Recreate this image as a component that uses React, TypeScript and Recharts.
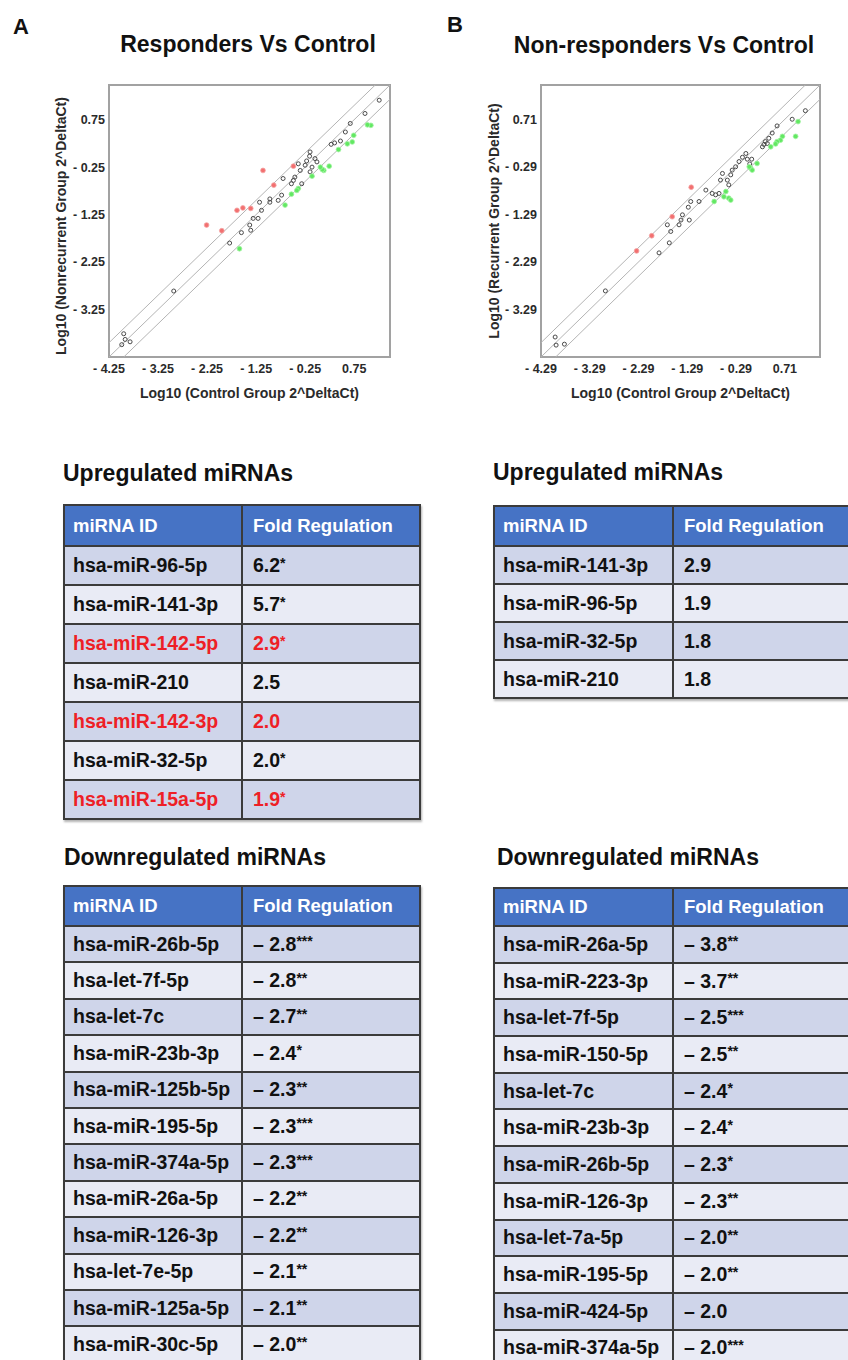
import React from "react";
import { ScatterChart, Scatter, XAxis, YAxis, ReferenceLine, ReferenceArea } from "recharts";

type Pt = { x: number; y: number };

// ---- scatter data (log10 2^-dCt) ----
const respDomain: [number, number] = [-4.25, 1.48];
const respTicksX = [-4.25, -3.25, -2.25, -1.25, -0.25, 0.75];
const respTicksY = [-3.25, -2.25, -1.25, -0.25, 0.75];

const respGray: Pt[] = [
  { x: 1.26, y: 1.16 }, { x: 0.97, y: 0.88 }, { x: 0.67, y: 0.67 }, { x: 0.57, y: 0.49 },
  { x: 0.47, y: 0.3 }, { x: 0.35, y: 0.26 }, { x: 0.28, y: 0.23 }, { x: -0.15, y: 0.07 },
  { x: -0.16, y: -0.02 }, { x: -0.22, y: -0.12 }, { x: -0.25, y: -0.21 }, { x: -0.05, y: -0.07 },
  { x: -0.01, y: -0.14 }, { x: -0.11, y: -0.25 }, { x: -0.15, y: -0.35 }, { x: -0.35, y: -0.32 },
  { x: -0.46, y: -0.46 }, { x: -0.53, y: -0.6 }, { x: -0.49, y: -0.53 }, { x: -0.32, y: -0.6 },
  { x: -0.39, y: -0.18 }, { x: -0.7, y: -0.49 }, { x: -0.73, y: -0.84 }, { x: -0.8, y: -0.95 },
  { x: -0.97, y: -0.92 }, { x: -0.97, y: -0.99 }, { x: -1.18, y: -0.99 }, { x: -1.14, y: -1.16 },
  { x: -1.21, y: -1.33 }, { x: -1.31, y: -1.33 }, { x: -1.38, y: -1.47 }, { x: -1.36, y: -1.58 },
  { x: -1.55, y: -1.63 }, { x: -1.79, y: -1.85 }, { x: -2.93, y: -2.86 }, { x: -3.99, y: -3.99 },
  { x: -3.95, y: -3.76 }, { x: -3.92, y: -3.88 }, { x: -3.82, y: -3.93 },
];
const respRed: Pt[] = [
  { x: -1.11, y: -0.32 }, { x: -0.89, y: -0.63 }, { x: -0.49, y: -0.23 }, { x: -1.64, y: -1.16 },
  { x: -1.52, y: -1.11 }, { x: -1.36, y: -1.12 }, { x: -2.26, y: -1.47 }, { x: -1.95, y: -1.59 },
];
const respGreen: Pt[] = [
  { x: 1.09, y: 0.63 }, { x: 1.02, y: 0.64 }, { x: 0.74, y: 0.42 }, { x: 0.71, y: 0.28 },
  { x: 0.61, y: 0.24 }, { x: 0.43, y: 0.12 }, { x: 0.24, y: -0.23 }, { x: 0.13, y: -0.32 },
  { x: 0.1, y: -0.3 }, { x: 0.06, y: -0.25 }, { x: -0.11, y: -0.44 }, { x: -0.39, y: -0.7 },
  { x: -0.42, y: -0.74 }, { x: -0.53, y: -0.82 }, { x: -0.66, y: -1.05 }, { x: -1.59, y: -1.97 },
];

const nonDomain: [number, number] = [-4.29, 1.43];
const nonTicksX = [-4.29, -3.29, -2.29, -1.29, -0.29, 0.71];
const nonTicksY = [-3.29, -2.29, -1.29, -0.29, 0.71];

const nonGray: Pt[] = [
  { x: 1.13, y: 0.89 }, { x: 0.86, y: 0.71 }, { x: 0.55, y: 0.57 }, { x: 0.45, y: 0.42 },
  { x: 0.38, y: 0.31 }, { x: 0.31, y: 0.24 }, { x: 0.25, y: 0.13 }, { x: 0.35, y: 0.2 },
  { x: 0.28, y: 0.18 }, { x: -0.09, y: -0.01 }, { x: -0.16, y: -0.09 }, { x: -0.23, y: -0.18 },
  { x: -0.3, y: -0.29 }, { x: -0.06, y: -0.13 }, { x: -0.01, y: -0.23 }, { x: 0.03, y: -0.13 },
  { x: -0.37, y: -0.36 }, { x: -0.4, y: -0.46 }, { x: -0.47, y: -0.57 }, { x: -0.44, y: -0.67 },
  { x: -0.61, y: -0.57 }, { x: -0.57, y: -0.43 }, { x: -0.71, y: -0.88 }, { x: -0.64, y: -0.85 },
  { x: -0.78, y: -0.85 }, { x: -0.91, y: -0.78 }, { x: -1.05, y: -1.02 }, { x: -1.22, y: -1.02 },
  { x: -1.27, y: -1.14 }, { x: -1.39, y: -1.3 }, { x: -1.42, y: -1.41 }, { x: -1.25, y: -1.41 },
  { x: -1.46, y: -1.51 }, { x: -1.7, y: -1.51 }, { x: -1.63, y: -1.65 }, { x: -1.66, y: -1.89 },
  { x: -1.87, y: -2.1 }, { x: -2.97, y: -2.9 }, { x: -4.0, y: -3.87 }, { x: -3.98, y: -4.04 },
  { x: -3.81, y: -4.02 },
];
const nonRed: Pt[] = [
  { x: -1.21, y: -0.72 }, { x: -1.6, y: -1.34 }, { x: -2.02, y: -1.74 }, { x: -2.33, y: -2.06 },
];
const nonGreen: Pt[] = [
  { x: 0.98, y: 0.66 }, { x: 0.93, y: 0.35 }, { x: 0.66, y: 0.35 }, { x: 0.62, y: 0.27 },
  { x: 0.55, y: 0.24 }, { x: 0.52, y: 0.19 }, { x: 0.42, y: 0.13 }, { x: 0.14, y: -0.22 },
  { x: 0.01, y: -0.32 }, { x: 0.04, y: -0.36 }, { x: -0.02, y: -0.29 }, { x: -0.5, y: -0.81 },
  { x: -0.44, y: -0.95 }, { x: -0.4, y: -0.99 }, { x: -0.74, y: -1.02 }, { x: -0.54, y: -0.92 },
];

// fold-change boundaries (log10 2) and the identity line
const foldOffsets = [0.301, 0, -0.301];

// ---- tables ----
const respUpIds = ["hsa-miR-96-5p", "hsa-miR-141-3p", "hsa-miR-142-5p", "hsa-miR-210", "hsa-miR-142-3p", "hsa-miR-32-5p", "hsa-miR-15a-5p"];
const respUpFold = ["6.2*", "5.7*", "2.9*", "2.5", "2.0", "2.0*", "1.9*"];
const redIds = ["hsa-miR-142-5p", "hsa-miR-142-3p", "hsa-miR-15a-5p"];

const nonUpIds = ["hsa-miR-141-3p", "hsa-miR-96-5p", "hsa-miR-32-5p", "hsa-miR-210"];
const nonUpFold = ["2.9", "1.9", "1.8", "1.8"];

const respDownIds = [
  "hsa-miR-26b-5p", "hsa-let-7f-5p", "hsa-let-7c", "hsa-miR-23b-3p", "hsa-miR-125b-5p", "hsa-miR-195-5p",
  "hsa-miR-374a-5p", "hsa-miR-26a-5p", "hsa-miR-126-3p", "hsa-let-7e-5p", "hsa-miR-125a-5p", "hsa-miR-30c-5p",
];
const respDownFold = ["– 2.8***", "– 2.8**", "– 2.7**", "– 2.4*", "– 2.3**", "– 2.3***", "– 2.3***", "– 2.2**", "– 2.2**", "– 2.1**", "– 2.1**", "– 2.0**"];

const nonDownIds = [
  "hsa-miR-26a-5p", "hsa-miR-223-3p", "hsa-let-7f-5p", "hsa-miR-150-5p", "hsa-let-7c", "hsa-miR-23b-3p",
  "hsa-miR-26b-5p", "hsa-miR-126-3p", "hsa-let-7a-5p", "hsa-miR-195-5p", "hsa-miR-424-5p", "hsa-miR-374a-5p",
];
const nonDownFold = ["– 3.8**", "– 3.7**", "– 2.5***", "– 2.5**", "– 2.4*", "– 2.4*", "– 2.3*", "– 2.3**", "– 2.0**", "– 2.0**", "– 2.0", "– 2.0***"];

const FONT = "'Liberation Sans', Arial, Helvetica, sans-serif";

const fmt = (v: number) => (v < 0 ? `- ${Math.abs(v).toFixed(2)}` : v.toFixed(2));

const grayDot = (p: any) => <circle cx={p.cx} cy={p.cy} r={2} fill="none" stroke="#4a4a4a" strokeWidth={1} />;
const redDot = (p: any) => <circle cx={p.cx} cy={p.cy} r={2.4} fill="#f27070" stroke="#f5a5a5" strokeWidth={0.8} />;
const greenDot = (p: any) => <circle cx={p.cx} cy={p.cy} r={2.4} fill="#62e862" stroke="#a2f3a2" strokeWidth={0.8} />;

function ScatterPanel(props: {
  left: number;
  width: number;
  margin: { top: number; right: number; bottom: number; left: number };
  domain: [number, number];
  ticksX: number[];
  ticksY: number[];
  gray: Pt[];
  red: Pt[];
  green: Pt[];
  yLabel: string;
  yLabelOffset: number;
  yLabelDy: number;
}) {
  const [lo, hi] = props.domain;
  const tickStyle = { fontSize: 12.5, fontWeight: 700, fill: "#2a2a2a" };
  const labelStyle = { fontSize: 14, fontWeight: 700, fill: "#2a2a2a" };
  return (
    <div style={{ position: "absolute", left: props.left, top: 0 }}>
      <ScatterChart width={props.width} height={410} margin={props.margin}>
        <XAxis
          type="number"
          dataKey="x"
          domain={props.domain}
          ticks={props.ticksX}
          tickFormatter={fmt}
          allowDataOverflow
          axisLine={false}
          tickLine={false}
          tickSize={0}
          tickMargin={7}
          height={45}
          tick={tickStyle}
          interval={0}
          label={{ value: "Log10 (Control Group 2^DeltaCt)", position: "insideBottom", offset: 4, style: labelStyle }}
        />
        <YAxis
          type="number"
          dataKey="y"
          domain={props.domain}
          ticks={props.ticksY}
          tickFormatter={fmt}
          allowDataOverflow
          axisLine={false}
          tickLine={false}
          tickSize={0}
          tickMargin={4}
          width={59}
          tick={tickStyle}
          interval={0}
          label={{
            value: props.yLabel,
            angle: -90,
            position: "insideLeft",
            offset: props.yLabelOffset,
            dy: props.yLabelDy,
            style: { ...labelStyle, textAnchor: "middle" },
          }}
        />
        <ReferenceArea x1={lo} x2={hi} y1={lo} y2={hi} fill="#fff" fillOpacity={0} stroke="#a2a2a2" strokeWidth={2} ifOverflow="visible" />
        {foldOffsets.map((d) => {
          const x0 = Math.max(lo, lo - d);
          const x1 = Math.min(hi, hi - d);
          return (
            <ReferenceLine
              key={d}
              segment={[{ x: x0, y: x0 + d }, { x: x1, y: x1 + d }]}
              stroke="#b4b4b4"
              strokeWidth={1}
              ifOverflow="visible"
            />
          );
        })}
        <Scatter data={props.gray} shape={grayDot} isAnimationActive={false} />
        <Scatter data={props.green} shape={greenDot} isAnimationActive={false} />
        <Scatter data={props.red} shape={redDot} isAnimationActive={false} />
      </ScatterChart>
    </div>
  );
}

function FoldText({ s }: { s: string }) {
  const m = s.match(/^(.*?)(\**)$/);
  const main = m ? m[1] : s;
  const stars = m ? m[2] : "";
  return (
    <span>
      {main}
      {stars && <span style={{ fontSize: "0.72em", position: "relative", top: "-0.32em" }}>{stars}</span>}
    </span>
  );
}

function MirTable(props: {
  left: number;
  top: number;
  ids: string[];
  folds: string[];
  headH: number;
  rowH: number;
  col1: number;
  col2: number;
}) {
  const border = "2px solid #3b3b3b";
  const cell = (w: number, pad: number, extra: React.CSSProperties = {}): React.CSSProperties => ({
    width: w,
    boxSizing: "border-box",
    paddingLeft: pad,
    display: "flex",
    alignItems: "center",
    height: "100%",
    whiteSpace: "nowrap",
    ...extra,
  });
  return (
    <div
      style={{
        position: "absolute",
        left: props.left,
        top: props.top,
        width: props.col1 + props.col2,
        border,
        boxShadow: "1px 2px 2px rgba(0,0,0,0.3)",
        fontWeight: 700,
      }}
    >
      <div style={{ display: "flex", height: props.headH, boxSizing: "border-box", background: "#4673c5", color: "#fff", fontSize: 18.5 }}>
        <div style={cell(props.col1, 8, { borderRight: border })}>miRNA ID</div>
        <div style={cell(props.col2, 10)}>Fold Regulation</div>
      </div>
      {props.ids.map((id, i) => {
        const red = redIds.includes(id) && props.folds === respUpFold;
        return (
          <div
            key={id}
            style={{
              display: "flex",
              height: props.rowH,
              boxSizing: "border-box",
              borderTop: border,
              background: i % 2 === 0 ? "#cfd5ea" : "#e9ebf5",
              color: red ? "#ee1f26" : "#111",
              fontSize: 19.5,
            }}
          >
            <div style={cell(props.col1, 8, { borderRight: border })}>{id}</div>
            <div style={cell(props.col2, 10)}>
              <FoldText s={props.folds[i]} />
            </div>
          </div>
        );
      })}
    </div>
  );
}

const textAt = (left: number, baseline: number, size: number, extra: React.CSSProperties = {}): React.CSSProperties => ({
  position: "absolute",
  left,
  top: baseline - 0.846 * size,
  fontSize: size,
  lineHeight: 1,
  fontWeight: 700,
  color: "#111",
  whiteSpace: "nowrap",
  ...extra,
});

export default function App() {
  return (
    <div
      style={{
        position: "absolute",
        left: 0,
        top: 0,
        width: 848,
        height: 1360,
        overflow: "hidden",
        background: "#fff",
        fontFamily: FONT,
      }}
    >
      <div style={textAt(13, 35, 22)}>A</div>
      <div style={textAt(447, 33, 22)}>B</div>
      <div style={textAt(48, 52, 23, { width: 400, textAlign: "center" })}>Responders Vs Control</div>
      <div style={textAt(464, 53, 23, { width: 400, textAlign: "center" })}>Non-responders Vs Control</div>

      <ScatterPanel
        left={0}
        width={424}
        margin={{ top: 85, right: 34, bottom: 8, left: 50 }}
        domain={respDomain}
        ticksX={respTicksX}
        ticksY={respTicksY}
        gray={respGray}
        red={respRed}
        green={respGreen}
        yLabel="Log10 (Nonrecurrent Group 2^DeltaCt)"
        yLabelOffset={11}
        yLabelDy={5}
      />
      <ScatterPanel
        left={430}
        width={418}
        margin={{ top: 85, right: 28, bottom: 8, left: 52 }}
        domain={nonDomain}
        ticksX={nonTicksX}
        ticksY={nonTicksY}
        gray={nonGray}
        red={nonRed}
        green={nonGreen}
        yLabel="Log10 (Recurrent Group 2^DeltaCt)"
        yLabelOffset={12}
        yLabelDy={0}
      />

      <div style={textAt(63, 481, 23)}>Upregulated miRNAs</div>
      <div style={textAt(493, 480, 23)}>Upregulated miRNAs</div>
      <MirTable left={63} top={504} ids={respUpIds} folds={respUpFold} headH={39} rowH={39} col1={178} col2={176} />
      <MirTable left={493} top={505} ids={nonUpIds} folds={nonUpFold} headH={38} rowH={38} col1={179} col2={190} />

      <div style={textAt(64, 865, 23)}>Downregulated miRNAs</div>
      <div style={textAt(497, 865, 23)}>Downregulated miRNAs</div>
      <MirTable left={63} top={885} ids={respDownIds} folds={respDownFold} headH={38} rowH={36.4} col1={178} col2={176} />
      <MirTable left={493} top={887} ids={nonDownIds} folds={nonDownFold} headH={36} rowH={36.7} col1={179} col2={190} />
    </div>
  );
}
